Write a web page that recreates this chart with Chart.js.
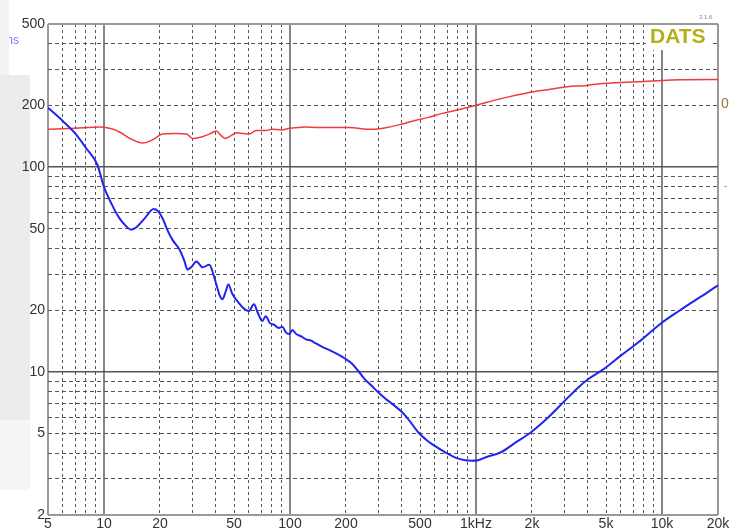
<!DOCTYPE html>
<html>
<head>
<meta charset="utf-8">
<script src="https://cdn.jsdelivr.net/npm/chart.js@4.4.0/dist/chart.umd.min.js"></script>
<style>
  html, body { margin: 0; padding: 0; background: #fff; }
  #wrap { width: 740px; height: 529px; position: relative; }
</style>
</head>
<body>
<div id="wrap"><canvas id="chart"></canvas></div>
<script>
// impedance magnitude (blue)
const blueFreq = [5, 6, 7, 8, 9.2, 10, 11, 12, 13, 14, 15, 16.5, 18.5, 19.5, 20.7, 22, 23.4, 25.5, 27, 28.1,
  29.5, 31.4, 33.9, 36.9, 38.5, 40.2, 42, 43.3, 45, 46.6, 49, 53.3, 56, 60, 64, 67, 71, 74, 78, 82,
  87, 91, 95, 99, 103, 108, 115, 122, 130, 137, 150, 162, 180, 198, 215, 233, 250, 275, 300, 326,
  360, 397, 418, 450, 490, 550, 600, 683, 780, 873, 950, 1024, 1150, 1361, 1650, 1968, 2400, 2990, 3500, 4000,
  4770, 6000, 7500, 9750, 12500, 15000, 17500, 20000];
const blueZ = [195, 168, 146, 124, 103, 80, 66, 57, 52, 49.5, 51, 56, 62.5, 61, 56, 49, 44, 39.5, 35, 31.6,
  32.5, 34.6, 32.4, 33.4, 30.5, 26.7, 23.5, 22.6, 24.5, 26.7, 24, 21.6, 20.5, 19.8, 21.4, 19.5, 17.7, 18.7, 17.3, 17.0,
  16.4, 16.6, 15.6, 15.3, 16.0, 15.3, 14.9, 14.4, 14.2, 13.8, 13.2, 12.8, 12.2, 11.6, 11.0, 10.1, 9.3, 8.55, 7.9, 7.4,
  6.9, 6.4, 6.1, 5.6, 5.06, 4.6, 4.35, 4.05, 3.8, 3.7, 3.68, 3.7, 3.85, 4.05, 4.55, 5.06, 5.9, 7.2, 8.3, 9.2,
  10.2, 12.0, 14.0, 17.1, 20.0, 22.3, 24.4, 26.5];

// phase trace (red)
const redFreq = [5, 7, 9.5, 11, 12.2, 14, 16.2, 18, 20.7, 24, 27.8, 30, 33, 36.9, 40.2, 42.5, 44.9, 48, 51.4, 56,
  60, 65.7, 74, 80, 90, 100, 111, 122, 140, 160, 206, 274, 330, 397, 470, 553, 660, 772, 990, 1360,
  1900, 2426, 3100, 3830, 4760, 6000, 8000, 10000, 12500, 18500, 20000];
const redZ = [153, 155, 157, 154, 148, 137, 131, 135, 145, 146, 145, 138, 140, 145, 150, 143, 138, 142, 147, 146,
  145, 151, 151, 153, 152, 155, 156, 157, 156, 156, 156, 153, 156, 162, 169, 175, 183, 189, 200, 216,
  231, 239, 247, 250, 256, 259, 262, 265, 267, 268, 268];

const xTicks = [5, 6, 7, 8, 9, 10, 20, 30, 40, 50, 60, 70, 80, 90, 100, 200, 300, 400, 500, 600, 700, 800, 900,
  1000, 2000, 3000, 4000, 5000, 6000, 7000, 8000, 9000, 10000, 20000];
const xLabels = {5: '5', 10: '10', 20: '20', 50: '50', 100: '100', 200: '200', 500: '500',
  1000: '1kHz', 2000: '2k', 5000: '5k', 10000: '10k', 20000: '20k'};
const yTicks = [2, 3, 4, 5, 6, 7, 8, 9, 10, 20, 30, 40, 50, 60, 70, 80, 90, 100, 200, 300, 400, 500];
const yLabels = [2, 5, 10, 20, 50, 100, 200, 500];

function isDecade(v) {
  const l = Math.log10(v);
  return Math.abs(l - Math.round(l)) < 1e-9;
}

function toPoints(xs, ys) {
  return xs.map((x, i) => ({x: x, y: ys[i]}));
}

// background panel, DATS badge and the odd clipped labels round the edges
const decorPlugin = {
  id: 'decor',
  beforeDraw(chart) {
    const c = chart.ctx;
    c.save();
    c.fillStyle = '#ffffff';
    c.fillRect(0, 0, chart.width, chart.height);
    c.fillStyle = '#ececec';
    c.fillRect(0, 75, 30, 345);
    c.fillStyle = '#f5f5f5';
    c.fillRect(0, 420, 30, 70);
    c.restore();
  },
  afterDraw(chart) {
    const c = chart.ctx;
    c.save();
    c.fillStyle = '#ffffff';
    c.fillRect(646, 25, 67, 25);
    c.fillStyle = '#b2b014';
    c.font = 'bold 21px "Liberation Sans", Arial, sans-serif';
    c.textBaseline = 'middle';
    c.textAlign = 'left';
    c.fillText('DATS', 650, 37);
    c.fillStyle = '#888';
    c.font = '6px "Liberation Sans", Arial, sans-serif';
    c.fillText('3.1.6', 699, 17);
    c.fillStyle = '#7a7aff';
    c.font = '12px "Liberation Sans", Arial, sans-serif';
    c.textAlign = 'right';
    c.fillText('Ohms', 19, 41);
    // side panel sits over the start of the unit label
    c.fillStyle = '#f3f3f3';
    c.fillRect(0, 0, 9, 75);
    c.fillStyle = '#9a7a3a';
    c.font = '14px "Liberation Sans", Arial, sans-serif';
    c.textAlign = 'left';
    c.fillText('0', 721, 104);
    c.fillStyle = '#7a8aaa';
    c.font = '10px "Liberation Sans", Arial, sans-serif';
    c.fillText('-', 724, 186);
    c.restore();
  }
};

const ctx = document.getElementById('chart').getContext('2d');
const chart = new Chart(ctx, {
  type: 'line',
  data: {
    datasets: [
      {
        label: 'Impedance',
        data: toPoints(blueFreq, blueZ),
        borderColor: '#1f24f0',
        borderWidth: 2,
        pointRadius: 0,
        cubicInterpolationMode: 'monotone',
        fill: false
      },
      {
        label: 'Phase',
        data: toPoints(redFreq, redZ),
        borderColor: '#f23a3a',
        borderWidth: 1.5,
        pointRadius: 0,
        cubicInterpolationMode: 'monotone',
        fill: false
      }
    ]
  },
  options: {
    responsive: true,
    maintainAspectRatio: false,
    animation: false,
    layout: { padding: { top: 24, right: 22, left: 0, bottom: 0 } },
    plugins: {
      legend: { display: false },
      tooltip: { enabled: false }
    },
    scales: {
      x: {
        type: 'logarithmic',
        min: 5,
        max: 20000,
        afterBuildTicks: (scale) => { scale.ticks = xTicks.map(v => ({value: v})); },
        afterFit: (scale) => { scale.height = 14; },
        border: {
          display: false,
          dash: (c) => (c.tick && !isDecade(c.tick.value) && c.tick.value !== 5 && c.tick.value !== 20000) ? [3, 3] : []
        },
        grid: {
          drawTicks: false,
          color: (c) => {
            const v = c.tick ? c.tick.value : 10;
            if (v === 5 || v === 20000) return '#9a9a9a';
            if (isDecade(v)) return '#858585';
            return '#555';
          },
          lineWidth: (c) => {
            const v = c.tick ? c.tick.value : 10;
            if (v === 5 || v === 20000 || isDecade(v)) return 2;
            return 1;
          }
        },
        ticks: {
          autoSkip: false,
          maxRotation: 0,
          padding: 1,
          color: '#333',
          font: { family: '"Liberation Sans", Arial, sans-serif', size: 14 },
          callback: (v) => xLabels[v] || ''
        }
      },
      y: {
        type: 'logarithmic',
        min: 2,
        max: 500,
        afterBuildTicks: (scale) => { scale.ticks = yTicks.map(v => ({value: v})); },
        afterFit: (scale) => { scale.width = 48; },
        border: {
          display: false,
          dash: (c) => (c.tick && !isDecade(c.tick.value) && c.tick.value !== 2 && c.tick.value !== 500) ? [4, 3] : []
        },
        grid: {
          drawTicks: false,
          color: (c) => {
            const v = c.tick ? c.tick.value : 10;
            if (v === 2 || v === 500) return '#9a9a9a';
            return '#555';
          },
          lineWidth: (c) => {
            const v = c.tick ? c.tick.value : 10;
            if (v === 2 || v === 500) return 2;
            if (isDecade(v)) return 1.5;
            return 1;
          }
        },
        ticks: {
          autoSkip: false,
          padding: 3,
          color: '#333',
          font: { family: '"Liberation Sans", Arial, sans-serif', size: 14 },
          callback: (v) => yLabels.includes(v) ? String(v) : ''
        }
      }
    }
  },
  plugins: [decorPlugin]
});
</script>
</body>
</html>
